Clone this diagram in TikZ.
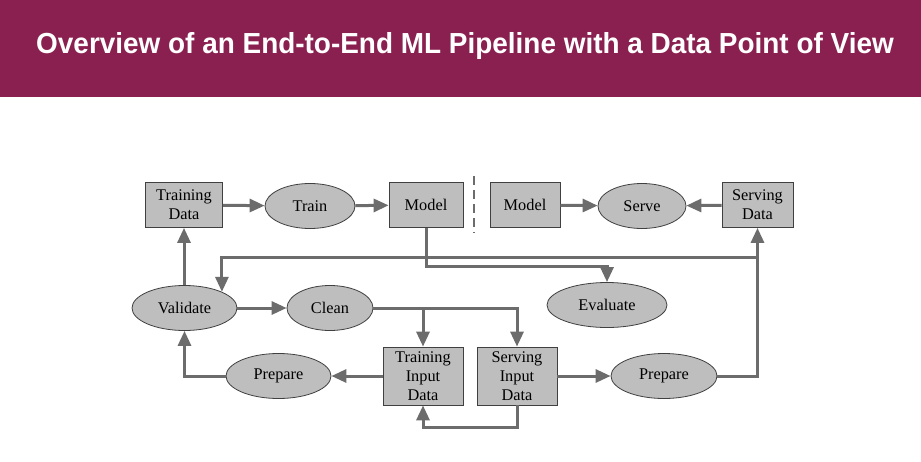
\documentclass[tikz,border=0pt]{standalone}
\usepackage{fontspec}
\setmainfont{Liberation Serif}
\newfontfamily\titlefont{Liberation Sans}[FakeStretch=0.963]
\usetikzlibrary{arrows.meta,shapes.geometric}
\definecolor{banner}{RGB}{138,32,80}
\definecolor{boxgray}{RGB}{190,190,190}
\definecolor{linegray}{RGB}{108,108,108}
\tikzset{
  box/.style={draw=black!75, line width=0.8pt, fill=boxgray, minimum width=77pt, minimum height=45pt, inner sep=1pt, align=center, font=\fontsize{16.3}{18.8}\selectfont},
  tallbox/.style={box, minimum width=80pt, minimum height=58pt},
  oval/.style={ellipse, draw=black!75, line width=0.8pt, fill=boxgray, minimum width=90pt, minimum height=45pt, inner sep=0pt, font=\fontsize{16.3}{18.8}\selectfont},
  wide/.style={oval, minimum width=105pt},
  conn/.style={draw=linegray, line width=3pt},
  arr/.style={conn, -{Triangle[length=15pt,width=13pt]}},
  sep/.style={draw=linegray, line width=2.5pt, dash pattern=on 9pt off 5pt}
}
\begin{document}
\begin{tikzpicture}[x=1pt,y=-1pt]
\useasboundingbox (0,0) rectangle (921,461);
\fill[white] (0,0) rectangle (921,461);
\fill[banner] (0,0) rectangle (921,97);
\node[anchor=base, text=white, font=\titlefont\bfseries\fontsize{29}{32}\selectfont] (title) at (465,53) {Overview of an End-to-End ML Pipeline with a Data Point of View};

% top row
\node[box] (td) at (184,205) {Training\\Data};
\node[oval] (train) at (310,206) {Train};
\node[box, minimum width=74pt] (modelL) at (426,205) {Model};
\node[box, minimum width=70pt] (modelR) at (525,205) {Model};
\node[oval, minimum width=88pt] (serve) at (642,206) {Serve};
\node[box, minimum width=71pt] (sd) at (757.5,205) {Serving\\Data};
\coordinate (sepTop) at (474,176);
\coordinate (sepBot) at (474,233);
\draw[sep] (sepTop) -- (sepBot);

% middle row
\node[wide] (validate) at (184.5,308) {Validate};
\node[oval, minimum width=86pt] (clean) at (330,308) {Clean};
\node[oval, minimum width=120pt] (eval) at (607,305) {Evaluate};

% bottom row
\node[tallbox] (tid) at (423,376) {Training\\Input\\Data};
\node[tallbox] (sid) at (517,376) {Serving\\Input\\Data};
\node[wide] (prepL) at (278.5,376) {Prepare};
\node[wide, minimum width=106pt] (prepR) at (664,376) {Prepare};

% connectors
\draw[arr] (td) -- (train);
\draw[arr] (train) -- (modelL);
\draw[arr] (modelR) -- (serve);
\draw[arr] (sd) -- (serve);
\draw[arr] (modelL.south) -- ++(0,39) -| (eval.north);
\coordinate (j) at (sd.south |- 0,257);
\draw[arr] (j) -| (validate.north east);
\draw[arr] (validate.north -| td.south) -- (td.south);
\draw[arr] (validate) -- (clean);
\draw[arr] (clean.east) -| (sid.north);
\coordinate (k) at (tid.north |- clean.east);
\draw[arr] (k) -- (tid.north);
\draw[arr] (tid) -- (prepL);
\draw[arr] (prepL.west) -| (validate.south);
\draw[arr] (sid) -- (prepR);
\draw[arr] (prepR.east) -| (sd.south);
\draw[arr] (sid.south) -- ++(0,22) -| (tid.south);
\end{tikzpicture}
\end{document}
